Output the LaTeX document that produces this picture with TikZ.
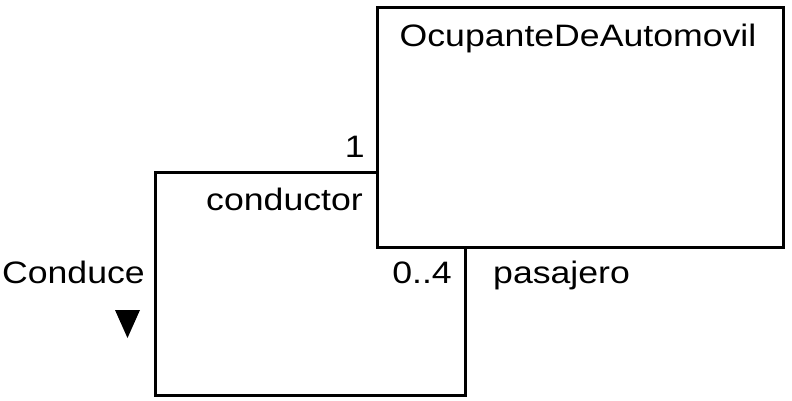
\documentclass[tikz,border=0pt]{standalone}
\usepackage{fontspec}
\setmainfont{Liberation Sans}[FakeStretch=1.15]
\usepackage{tikz}
\usetikzlibrary{arrows}
\usetikzlibrary{positioning}

\begin{document}
\begin{tikzpicture}[-,auto,x=1pt,y=1pt,
			class node/.style={rectangle,draw,line width=3pt,
				minimum width=406pt,minimum height=239pt,inner sep=0pt},
			role/.style={font=\fontsize{31}{36}\selectfont,inner sep=0pt},
			assoc/.style={line width=3pt}]
			
			\useasboundingbox (0,0) rectangle (792,400);
			\node[class node] (ocupante) at (580,272.5) {};
			\node[role,anchor=base] (titulo) at (578,353) {OcupanteDeAutomovil};
			\coordinate (c1) at (155,228);
			\coordinate (c2) at (155,5);
			\coordinate (c3) at (465,5);
			\draw[assoc] (ocupante.west |- c1) -- (c1) -- (c2) -- (c3) -- (c3 |- ocupante.south);
			\node[role,anchor=base east] (uno) at (365,243) {1};
			\node[role,anchor=base east] (conductor) at (363,190) {conductor};
			\node[role,anchor=base east] (cuatro) at (452,117) {0..4};
			\node[role,anchor=base west] (pasajero) at (493,117) {pasajero};
			\node[role,anchor=base east] (conduce) at (145,117) {Conduce};
			\fill (115,90) -- (140,90) -- (127.5,62) -- cycle;
		\end{tikzpicture}
\end{document}
